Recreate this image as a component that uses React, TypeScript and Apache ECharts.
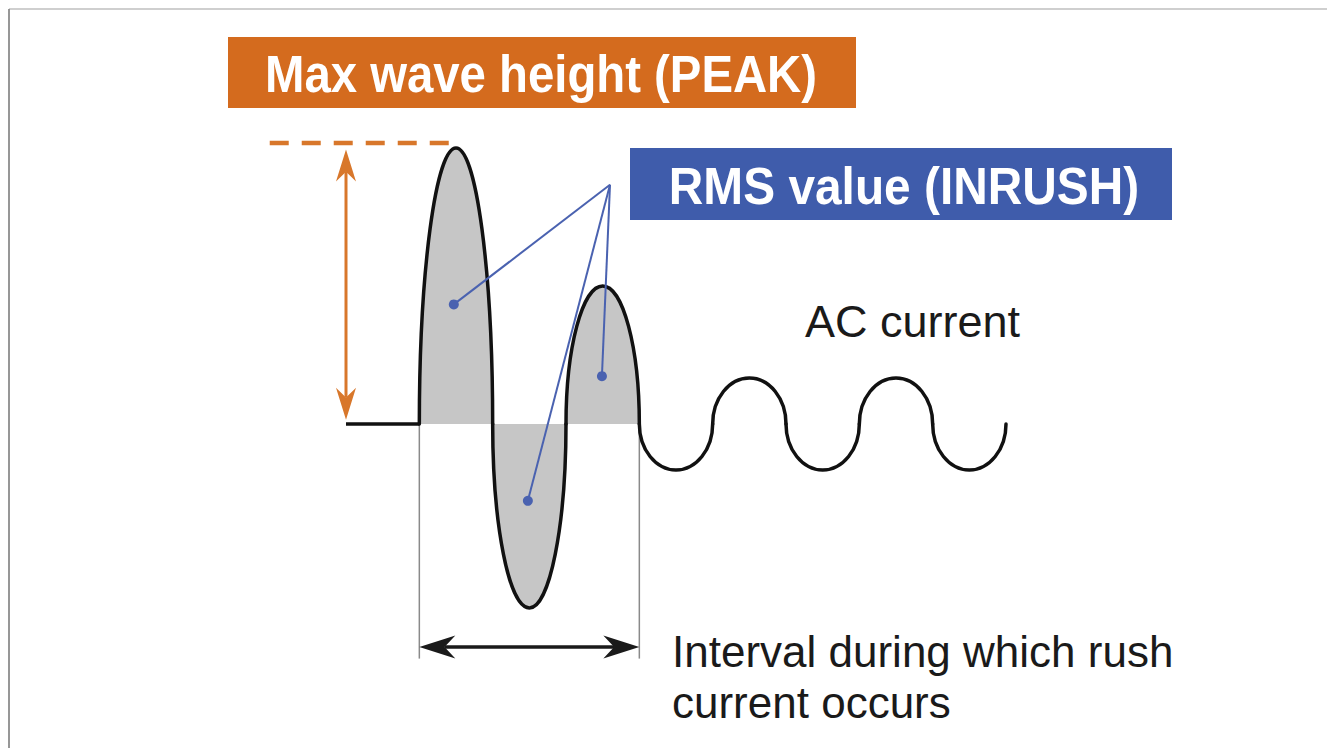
import React, { useEffect, useRef } from "react";
import * as echarts from "echarts";

// Time axis in ms (AC half period = 10 ms), current in units of the AC amplitude
const leadIn: number[][] = [[-10, 0], [0, 0]];
const lobeStart = [0, 10, 20, 30, 40, 50, 60, 70];
const lobeEnd = [10, 20, 30, 40, 50, 60, 70, 80];
const lobePeak = [6, -4, 3, -1, 1, -1, 1, -1];
const lobeShaded = [1, 1, 1, 0, 0, 0, 0, 0];

// RMS pointer lines: common apex and the three dots
const pointerApex = [26, 5.2];
const pointerTargets: number[][] = [[4.7, 2.6], [14.8, -1.67], [24.9, 1.04]];

// Peak marker (dashed level line + double arrow)
const peakLevelLine: number[][] = [[-20.4, 6.11], [4.2, 6.11]];
const peakArrow = [-10, 5.97, -10, 0.09];

// Interval of rush current
const intervalBounds = [0, 30];
const intervalLineBottom = -5.1;
const intervalArrowLevel = -4.85;

// Texts
const peakTitle = "Max wave height (PEAK)";
const rmsTitle = "RMS value (INRUSH)";
const acLabel = "AC current";
const intervalLabel = ["Interval during which rush", "current occurs"];

const ORANGE = "#d46b1e";
const ORANGE_LINE = "#d8772b";
const BLUE = "#3f5cab";
const BLUE_LINE = "#4a62b0";
const GRAY_FILL = "#c6c6c6";
const K = 0.5523;

function lobePath(api: any, start: number, end: number, peak: number, close: boolean) {
  const p0 = api.coord([start, 0]);
  const p1 = api.coord([end, 0]);
  const pk = api.coord([(start + end) / 2, peak]);
  let d =
    `M${p0[0]},${p0[1]} ` +
    `C${p0[0]},${p0[1] + K * (pk[1] - p0[1])} ${pk[0] - K * (pk[0] - p0[0])},${pk[1]} ${pk[0]},${pk[1]} ` +
    `C${pk[0] + K * (p1[0] - pk[0])},${pk[1]} ${p1[0]},${p1[1] + K * (pk[1] - p1[1])} ${p1[0]},${p1[1]}`;
  if (close) d += " Z";
  return d;
}

function arrowHead(tip: number[], from: number[], L: number, W: number) {
  const dx = tip[0] - from[0];
  const dy = tip[1] - from[1];
  const len = Math.sqrt(dx * dx + dy * dy) || 1;
  const ux = dx / len;
  const uy = dy / len;
  const nx = -uy;
  const ny = ux;
  const bx = tip[0] - ux * L;
  const by = tip[1] - uy * L;
  const notch = [tip[0] - ux * L * 0.7, tip[1] - uy * L * 0.7];
  return {
    points: [tip, [bx + nx * W, by + ny * W], notch, [bx - nx * W, by - ny * W]],
    notch,
  };
}

const arrowData = [
  [peakArrow[0], peakArrow[1], peakArrow[2], peakArrow[3]],
  [intervalBounds[0], intervalArrowLevel, intervalBounds[1], intervalArrowLevel],
];
const arrowColors = [ORANGE_LINE, "#1a1a1a"];
const arrowWidths = [3, 3.5];
const arrowLen = [32, 36];
const arrowHalf = [10, 11.5];

export default function App() {
  const ref = useRef<HTMLDivElement>(null);

  useEffect(() => {
    const chart = echarts.init(ref.current!, null, { renderer: "svg" });
    const lobeData = lobeStart.map((s, i) => [s, lobeEnd[i], lobePeak[i], lobeShaded[i]]);

    const series: any[] = [
      {
        type: "custom",
        name: "fill",
        z: 1,
        data: lobeData,
        encode: { x: [0, 1], y: 2 },
        renderItem: (params: any, api: any) => {
          if (!api.value(3)) return { type: "group", children: [] };
          return {
            type: "path",
            shape: { pathData: lobePath(api, api.value(0), api.value(1), api.value(2), true) },
            style: { fill: GRAY_FILL, stroke: null },
          };
        },
      },
      {
        type: "custom",
        name: "wave",
        z: 3,
        data: lobeData,
        encode: { x: [0, 1], y: 2 },
        renderItem: (params: any, api: any) => ({
          type: "path",
          shape: { pathData: lobePath(api, api.value(0), api.value(1), api.value(2), false) },
          style: { fill: null, stroke: "#111", lineWidth: 3.5, lineCap: "round", lineJoin: "round" },
        }),
      },
      {
        type: "line",
        name: "leadIn",
        z: 3,
        data: leadIn,
        symbol: "none",
        clip: false,
        lineStyle: { color: "#111", width: 3.5 },
      },
      {
        type: "line",
        name: "peakLevel",
        z: 3,
        data: peakLevelLine,
        symbol: "none",
        clip: false,
        lineStyle: { color: ORANGE_LINE, width: 4.5, type: [19, 13] },
      },
      ...intervalBounds.map((b, i) => ({
        type: "line",
        name: "bound" + i,
        z: 2,
        data: [[b, i === 0 ? 0 : -0.1], [b, intervalLineBottom]],
        symbol: "none",
        clip: false,
        lineStyle: { color: "#8a8a8a", width: 1.5 },
      })),
      ...pointerTargets.map((t, i) => ({
        type: "line",
        name: "pointer" + i,
        z: 4,
        clip: false,
        showSymbol: true,
        data: [
          { value: pointerApex, symbol: "none" },
          { value: t, symbol: "circle", symbolSize: 10 },
        ],
        lineStyle: { color: BLUE_LINE, width: 2 },
        itemStyle: { color: BLUE_LINE, borderWidth: 0 },
      })),
      {
        type: "custom",
        name: "arrows",
        z: 5,
        data: arrowData,
        encode: { x: [0, 2], y: [1, 3] },
        renderItem: (params: any, api: any) => {
          const i = params.dataIndex;
          const p1 = api.coord([api.value(0), api.value(1)]);
          const p2 = api.coord([api.value(2), api.value(3)]);
          const h1 = arrowHead(p1, p2, arrowLen[i], arrowHalf[i]);
          const h2 = arrowHead(p2, p1, arrowLen[i], arrowHalf[i]);
          return {
            type: "group",
            children: [
              {
                type: "line",
                shape: { x1: h1.notch[0], y1: h1.notch[1], x2: h2.notch[0], y2: h2.notch[1] },
                style: { stroke: arrowColors[i], lineWidth: arrowWidths[i] },
              },
              { type: "polygon", shape: { points: h1.points }, style: { fill: arrowColors[i] } },
              { type: "polygon", shape: { points: h2.points }, style: { fill: arrowColors[i] } },
            ],
          };
        },
      },
    ];

    const option: any = {
      animation: false,
      backgroundColor: "#ffffff",
      grid: { left: 265.333, top: 148, width: 740.667, height: 460 },
      xAxis: { type: "value", min: -21, max: 80, show: false },
      yAxis: { type: "value", min: -4, max: 6, show: false },
      series,
      graphic: [
        {
          type: "line",
          shape: { x1: 9, y1: 9, x2: 1327, y2: 9 },
          style: { stroke: "#a0a0a0", lineWidth: 1.2 },
        },
        {
          type: "line",
          shape: { x1: 9, y1: 9, x2: 9, y2: 748 },
          style: { stroke: "#8c8c8c", lineWidth: 1.8 },
        },
        {
          type: "rect",
          shape: { x: 228, y: 37, width: 628, height: 71 },
          style: { fill: ORANGE },
        },
        {
          type: "text",
          x: 541,
          y: 74,
          scaleX: 0.91,
          style: {
            text: peakTitle,
            fill: "#ffffff",
            fontFamily: "Liberation Sans, Arial, sans-serif",
            fontWeight: "bold",
            fontSize: 52,
            align: "center",
            verticalAlign: "middle",
          },
        },
        {
          type: "rect",
          shape: { x: 630, y: 148, width: 542, height: 72 },
          style: { fill: BLUE },
        },
        {
          type: "text",
          x: 904,
          y: 186,
          scaleX: 0.92,
          style: {
            text: rmsTitle,
            fill: "#ffffff",
            fontFamily: "Liberation Sans, Arial, sans-serif",
            fontWeight: "bold",
            fontSize: 52,
            align: "center",
            verticalAlign: "middle",
          },
        },
        {
          type: "text",
          x: 805,
          y: 321,
          style: {
            text: acLabel,
            fill: "#1a1a1a",
            fontFamily: "Liberation Sans, Arial, sans-serif",
            fontSize: 45,
            align: "left",
            verticalAlign: "middle",
          },
        },
        ...intervalLabel.map((t, i) => ({
          type: "text",
          x: 672,
          y: 651 + i * 51,
          style: {
            text: t,
            fill: "#1a1a1a",
            fontFamily: "Liberation Sans, Arial, sans-serif",
            fontSize: 44,
            align: "left",
            verticalAlign: "middle",
          },
        })),
      ],
    };
    chart.setOption(option);
    return () => chart.dispose();
  }, []);

  return (
    <div
      ref={ref}
      style={{ position: "absolute", left: 0, top: 0, width: 1327, height: 748 }}
    />
  );
}
